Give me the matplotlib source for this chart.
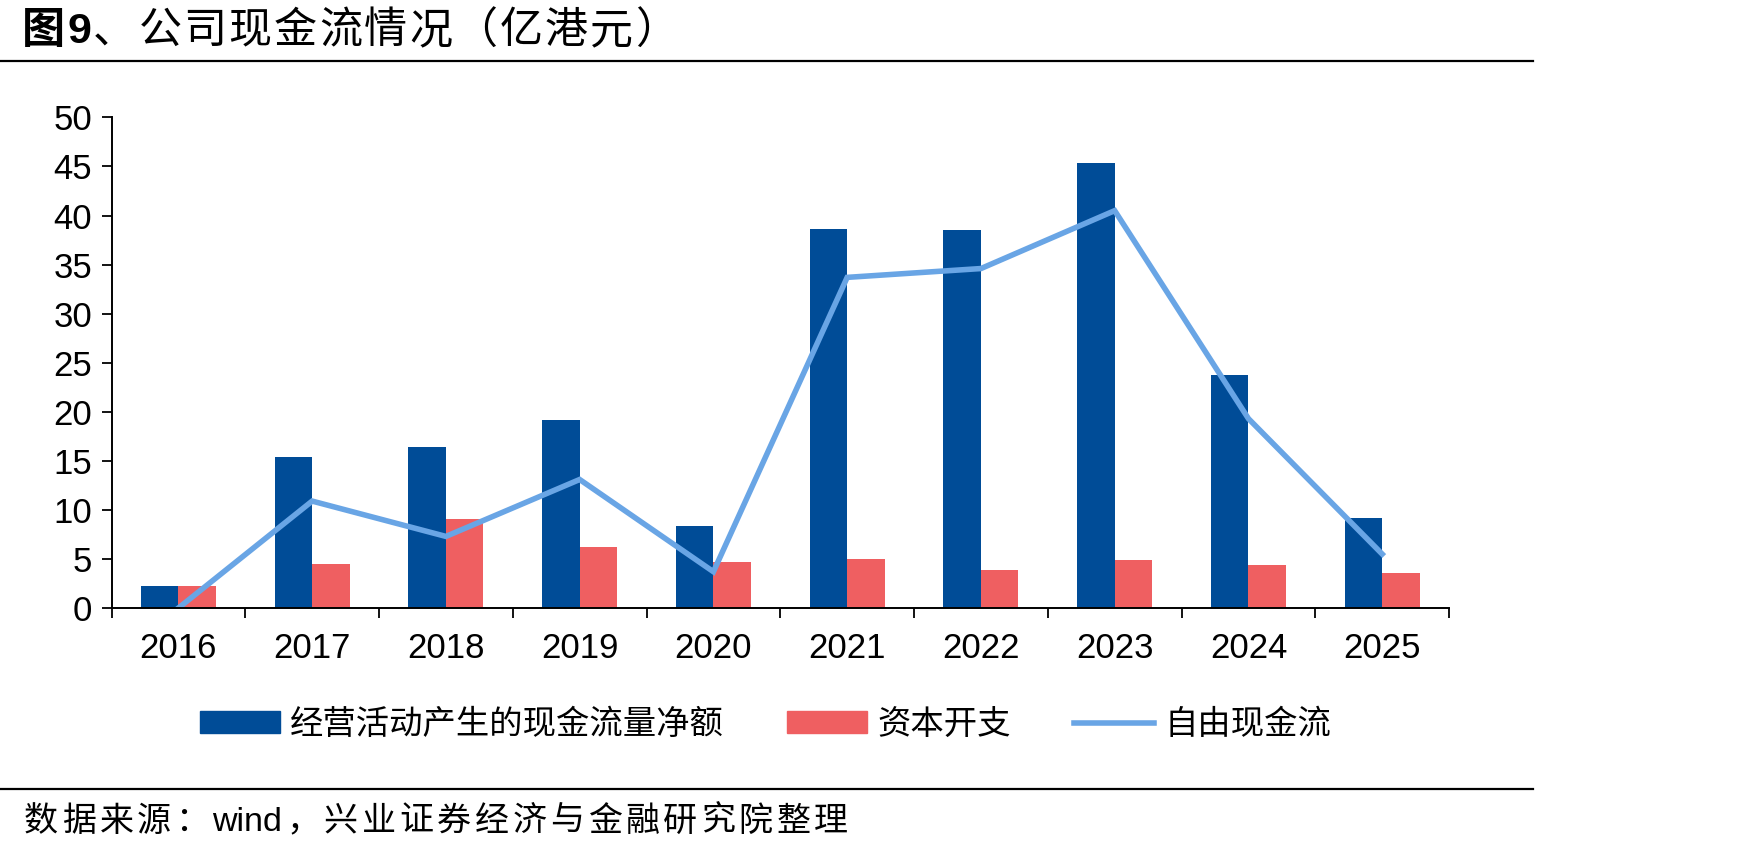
import matplotlib

matplotlib.use("Agg")
import matplotlib.pyplot as plt
import numpy as np
from matplotlib.lines import Line2D

plt.rcParams["font.family"] = ["Liberation Sans", "Noto Sans CJK SC", "DejaVu Sans"]

years = ["2016", "2017", "2018", "2019", "2020", "2021", "2022", "2023", "2024", "2025"]
operating_cf = [2.2, 15.4, 16.4, 19.2, 8.4, 38.6, 38.5, 45.4, 23.7, 9.2]
capex = [2.2, 4.5, 9.1, 6.2, 4.7, 5.0, 3.9, 4.9, 4.4, 3.6]
free_cf = [0.0, 10.9, 7.3, 13.1, 3.7, 33.7, 34.6, 40.5, 19.3, 5.5]

labels = ["经营活动产生的现金流量净额", "资本开支", "自由现金流"]
title_tokens = ["图", "9", "、", "公", "司", "现", "金", "流", "情", "况", "（", "亿", "港", "元", "）"]
title_bold = [True, True] + [False] * 13
source_tokens = ["数", "据", "来", "源", "：", "wind", "，", "兴", "业", "证", "券", "经", "济",
                 "与", "金", "融", "研", "究", "院", "整", "理"]

BLUE = "#004C97"
RED = "#EF5F61"
LIGHT = "#69A5E5"
W_PX = 1748


def spaced_text(fig, tokens, x0, x1, y, size, bold=None):
    """Lay tokens out evenly so the string spans x0..x1 (pixels)."""
    r = fig.canvas.get_renderer()
    bold = bold or [False] * len(tokens)
    arts = [fig.text(0, y, t, fontsize=size, va="center",
                     fontweight="bold" if b else "normal")
            for t, b in zip(tokens, bold)]
    widths = [a.get_window_extent(r).width for a in arts]
    gap = (x1 - x0 - sum(widths)) / (len(arts) - 1)
    x = x0
    for a, wd in zip(arts, widths):
        a.set_x(x / W_PX)
        x += wd + gap


fig = plt.figure(figsize=(17.48, 8.51), dpi=100)
ax = fig.add_axes([0.0638, 0.2855, 0.7652, 0.5765])

x = np.arange(len(years))
w = 0.28
ax.bar(x - w / 2, operating_cf, width=w, color=BLUE)
ax.bar(x + w / 2, capex, width=w, color=RED)
ax.plot(x, free_cf, color=LIGHT, linewidth=4.0, solid_joinstyle="miter")

ax.set_xlim(-0.5, len(years) - 0.5)
ax.set_ylim(0, 50)
ax.set_yticks(np.arange(0, 51, 5))
ax.set_xticks(np.arange(-0.5, len(years), 1.0))
ax.set_xticklabels([])
ax.set_xticks(x, minor=True)
ax.set_xticklabels(years, minor=True)
ax.tick_params(axis="x", which="minor", length=0, pad=17, labelsize=25)
ax.tick_params(axis="x", which="major", length=7, width=1.3, direction="out")
ax.tick_params(axis="y", length=7, width=1.3, direction="out", labelsize=25, pad=7)
for side in ["top", "right"]:
    ax.spines[side].set_visible(False)
for side in ["left", "bottom"]:
    ax.spines[side].set_linewidth(1.4)

handles = [
    plt.Rectangle((0, 0), 1, 1, color=BLUE),
    plt.Rectangle((0, 0), 1, 1, color=RED),
    Line2D([0], [0], color=LIGHT, linewidth=4.0),
]
fig.legend(handles, labels, loc="center", bbox_to_anchor=(0.438, 0.148), ncol=3,
           frameon=False, fontsize=24, handlelength=2.4, handleheight=0.6,
           handletextpad=0.3, columnspacing=1.9)

# title, rules and source note
spaced_text(fig, title_tokens, 22, 678, 0.962, 31, bold=title_bold)
fig.add_artist(Line2D([0, 0.877], [0.928, 0.928], color="black", linewidth=1.6))
fig.add_artist(Line2D([0, 0.877], [0.0729, 0.0729], color="black", linewidth=1.6))
spaced_text(fig, source_tokens, 24, 848, 0.034, 24.5)

fig.savefig("out.png", dpi=100)
